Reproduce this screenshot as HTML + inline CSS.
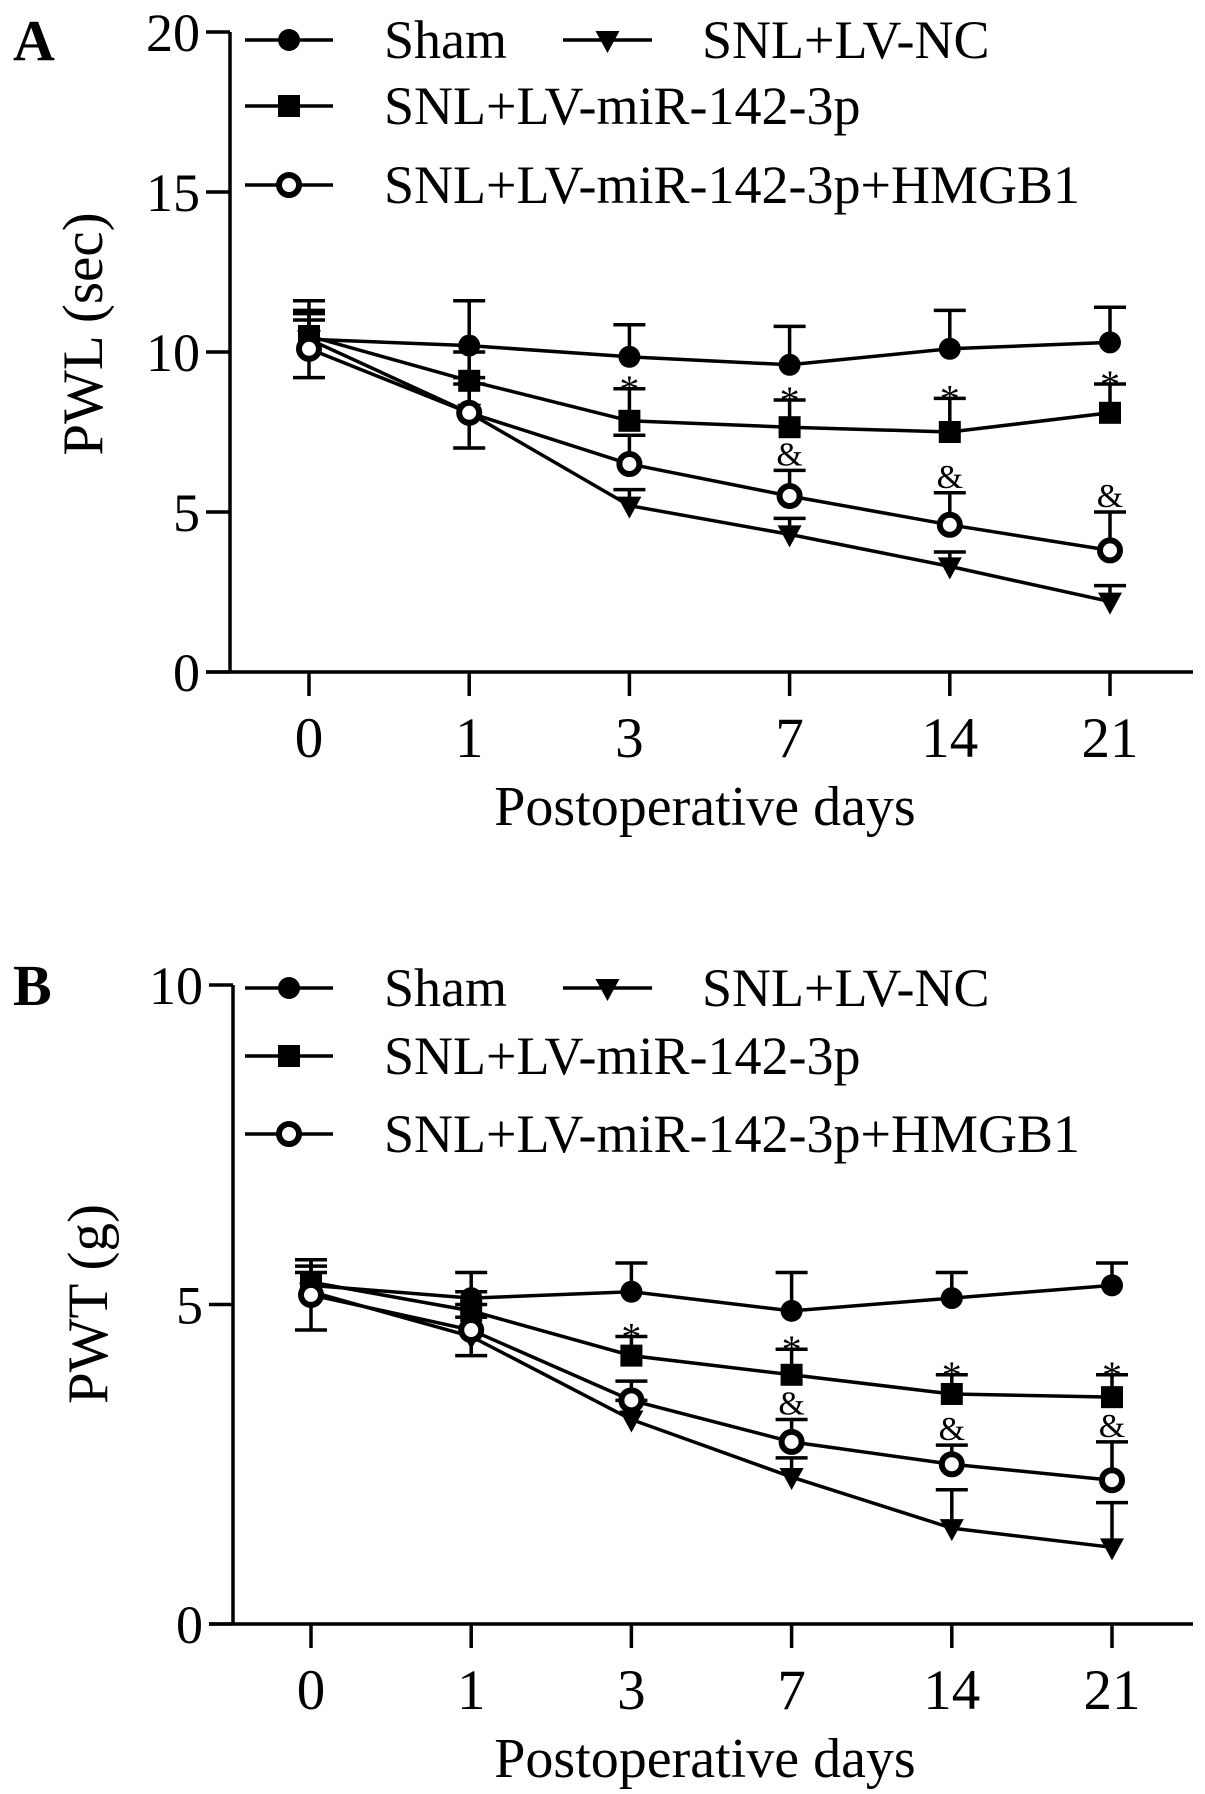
<!DOCTYPE html>
<html><head><meta charset="utf-8"><style>
html,body{margin:0;padding:0;background:#fff}
svg{display:block}
text{font-family:"Liberation Serif",serif;fill:#000}
</style></head><body>
<svg id="fig" width="1205" height="1794" viewBox="0 0 1205 1794" xmlns="http://www.w3.org/2000/svg"></svg>
<script>
const categories = ["0","1","3","7","14","21"];
// Panel A (PWL, sec)
const aSham = [10.4,10.2,9.85,9.6,10.1,10.3];
const aShamErr = [1.2,1.4,1.0,1.2,1.2,1.1];
const aMir = [10.5,9.1,7.85,7.65,7.5,8.1];
const aMirErr = [0.8,0.9,1.0,0.85,1.05,0.9];
const aNC = [10.4,8.1,5.2,4.3,3.3,2.2];
const aNCErr = [0.8,0.9,0.5,0.5,0.45,0.5];
const aHm = [10.1,8.1,6.5,5.5,4.6,3.8];
const aHmErr = [0.9,1.1,0.9,0.8,1.0,1.2];
const aHmLow = [0.9,1.1,0,0,0,0];
const aYTicks = [0,5,10,15,20];
const aStar = [false,false,true,true,true,true];
const aAmp = [false,false,false,true,true,true];
// Panel B (PWT, g)
const bSham = [5.3,5.1,5.2,4.9,5.1,5.3];
const bShamErr = [0.4,0.4,0.45,0.6,0.4,0.35];
const bMir = [5.35,4.9,4.2,3.9,3.6,3.55];
const bMirErr = [0.25,0.3,0.3,0.4,0.3,0.35];
const bNC = [5.2,4.5,3.2,2.3,1.5,1.2];
const bNCErr = [0.3,0.3,0.3,0.3,0.6,0.7];
const bHm = [5.15,4.6,3.5,2.85,2.5,2.25];
const bHmErr = [0.55,0.4,0.3,0.35,0.3,0.6];
const bHmLow = [0.55,0.4,0,0,0,0];
const bYTicks = [0,5,10];
const bStar = [false,false,true,true,true,true];
const bAmp = [false,false,false,true,true,true];

const NS="http://www.w3.org/2000/svg";
const svg=document.getElementById('fig');
function mk(tag,attrs,parent){const e=document.createElementNS(NS,tag);for(const k in attrs)e.setAttribute(k,attrs[k]);(parent||svg).appendChild(e);return e;}

function marker(g,type,cx,cy){
  let e;
  if(type==='circle'){e=mk('circle',{cx:cx,cy:cy,r:11,fill:'#000'},g);}
  else if(type==='square'){e=mk('rect',{x:cx-11,y:cy-11,width:22,height:22,fill:'#000'},g);}
  else if(type==='tri'){e=mk('polygon',{points:(cx-12)+','+(cy-9)+' '+(cx+12)+','+(cy-9)+' '+cx+','+(cy+13),fill:'#000'},g);}
  else {e=mk('circle',{cx:cx,cy:cy,r:10,fill:'#fff',stroke:'#000','stroke-width':6},g);}
  return e;
}

function panel(o){
  const X0=o.x0, DX=160.2;
  const xs=i=>X0+i*DX;
  const ys=v=>o.y0 - (v-0)*(o.y0-o.yTop)/o.yMax;
  const g=mk('g',{});
  
  
  const L=mk('text',{x:13,y:o.letterY,'font-size':58,'font-weight':'bold'},g);L.textContent=o.letter;
  
  const ax=mk('g',{stroke:'#000','stroke-width':3.5,fill:'none'},g);
  
  mk('line',{x1:o.ax,y1:o.yTop,x2:o.ax,y2:o.y0},ax);
  mk('line',{x1:o.ax-24,y1:o.y0,x2:1193,y2:o.y0},ax);
  o.yTicks.forEach(t=>{
    const y=ys(t);
    mk('line',{x1:o.ax-24,y1:y,x2:o.ax,y2:y},ax);
    const tx=mk('text',{x:o.ax-30,y:y+19,'font-size':54,'text-anchor':'end'},g);tx.textContent=t;
    
  });
  categories.forEach((c,i)=>{
    mk('line',{x1:xs(i),y1:o.y0,x2:xs(i),y2:o.y0+24},ax);
    const tx=mk('text',{x:xs(i),y:o.y0+85,'font-size':57,'text-anchor':'middle'},g);tx.textContent=c;
    
  });
  const xt=mk('text',{x:705,y:o.y0+153,'font-size':56,'text-anchor':'middle'},g);xt.textContent='Postoperative days';
  
  const yt=mk('text',{x:0,y:0,'font-size':57,'text-anchor':'middle',transform:'translate('+o.ylx+','+o.yly+') rotate(-90)'},g);yt.textContent=o.ylabel;
  
  const zero=[0,0,0,0,0,0];
  const series=[
    {name:'sham',v:o.sham,e:o.shamErr,lo:zero,m:'circle'},
    {name:'lv-mir',v:o.mir,e:o.mirErr,lo:zero,m:'square'},
    {name:'lv-nc',v:o.nc,e:o.ncErr,lo:zero,m:'tri'},
    {name:'lv-mir-hmgb1',v:o.hm,e:o.hmErr,lo:o.hmLow,m:'open'}
  ];
  series.forEach(s=>{
    const sg=mk('g',{},g);
    
    s.v.forEach((v,i)=>{
      const x=xs(i);
      let d='M'+x+' '+ys(v)+'V'+ys(v+s.e[i])+'M'+(x-16)+' '+ys(v+s.e[i])+'H'+(x+16);
      if(s.lo[i]>0) d+='M'+x+' '+ys(v)+'V'+ys(v-s.lo[i])+'M'+(x-16)+' '+ys(v-s.lo[i])+'H'+(x+16);
      const eb=mk('path',{d:d,stroke:'#000','stroke-width':3.5,fill:'none'},sg);
      
    });
    const pl=mk('polyline',{points:s.v.map((v,i)=>xs(i)+','+ys(v)).join(' '),fill:'none',stroke:'#000','stroke-width':3.5},sg);
    
    s.v.forEach((v,i)=>{
      const mm=marker(sg,s.m,xs(i),ys(v));
      
    });
  });
  categories.forEach((c,i)=>{
    if(o.star[i]){const t=mk('text',{x:xs(i),y:ys(o.mir[i]+o.mirErr[i])+14,'font-size':40,'text-anchor':'middle',fill:'#333'},g);t.textContent='*';
      }
    if(o.amp[i]){const t=mk('text',{x:xs(i),y:ys(o.hm[i]+o.hmErr[i])-5,'font-size':34,'text-anchor':'middle',fill:'#333'},g);t.textContent='&';
      }
  });
  const lg=mk('g',{},g);
  
  const ent=[
    {m:'circle',x1:245,x2:333,y:o.lgY[0],tx:384,t:'Sham'},
    {m:'tri',x1:563,x2:652,y:o.lgY[0],tx:702,t:'SNL+LV-NC'},
    {m:'square',x1:245,x2:333,y:o.lgY[1],tx:384,t:'SNL+LV-miR-142-3p'},
    {m:'open',x1:245,x2:333,y:o.lgY[2],tx:384,t:'SNL+LV-miR-142-3p+HMGB1'}
  ];
  ent.forEach(en=>{
    const eg=mk('g',{},lg);
    
    mk('line',{x1:en.x1,y1:en.y,x2:en.x2,y2:en.y,stroke:'#000','stroke-width':3.5},eg);
    marker(eg,en.m,(en.x1+en.x2)/2,en.y);
    const t=mk('text',{x:en.tx,y:en.y+18,'font-size':54},eg);t.textContent=en.t;
  });
}

panel({id:'panel-a',letter:'A',letterY:60,x0:309,ax:230,y0:672,yTop:32,yMax:20,yTicks:aYTicks,
  ylabel:'PWL (sec)',ylx:102,yly:334,
  sham:aSham,shamErr:aShamErr,mir:aMir,mirErr:aMirErr,nc:aNC,ncErr:aNCErr,hm:aHm,hmErr:aHmErr,hmLow:aHmLow,
  star:aStar,amp:aAmp,lgY:[40,106,185]});
panel({id:'panel-b',letter:'B',letterY:1005,x0:311,ax:233,y0:1624,yTop:985,yMax:10,yTicks:bYTicks,
  ylabel:'PWT (g)',ylx:107,yly:1304,
  sham:bSham,shamErr:bShamErr,mir:bMir,mirErr:bMirErr,nc:bNC,ncErr:bNCErr,hm:bHm,hmErr:bHmErr,hmLow:bHmLow,
  star:bStar,amp:bAmp,lgY:[988,1056,1134]});
</script>
</body></html>
